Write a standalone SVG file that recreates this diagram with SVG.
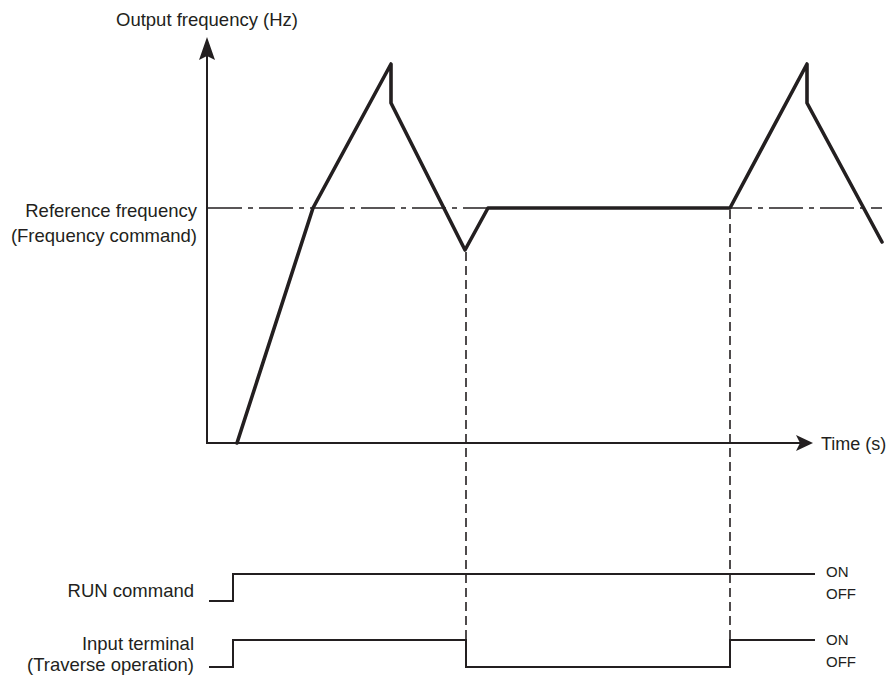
<svg xmlns="http://www.w3.org/2000/svg" width="889" height="679" viewBox="0 0 889 679">
<style>
  .lbl { font-family: "Liberation Sans", Arial, sans-serif; font-size: 18.5px; fill: #231f20; }
  .tm { font-family: "Liberation Sans", Arial, sans-serif; font-size: 18px; fill: #231f20; }
  .sm { font-family: "Liberation Sans", Arial, sans-serif; font-size: 15px; fill: #231f20; }
  .axis { stroke: #231f20; stroke-width: 2; fill: none; }
  .sig { stroke: #231f20; stroke-width: 2; fill: none; stroke-linejoin: miter; }
  .curve { stroke: #231f20; stroke-width: 3.6; fill: none; stroke-linejoin: round; stroke-linecap: round; }
  .ref { stroke: #231f20; stroke-width: 1.6; fill: none; stroke-dasharray: 34 6 5 6; }
  .dash { stroke: #231f20; stroke-width: 1.6; fill: none; stroke-dasharray: 9 5; }
  .head { fill: #231f20; }
</style>
<rect width="889" height="679" fill="#ffffff"/>

<g id="axes">
  <line class="axis" x1="207" y1="443" x2="207" y2="52"/>
  <polygon class="head" points="207,37 199,60 207,56 215,60"/>
  <line class="axis" x1="206" y1="443" x2="802" y2="443"/>
  <polygon class="head" points="813,443 796,435 800,443 796,451"/>
</g>

<g id="labels">
  <text class="lbl" x="207" y="26" text-anchor="middle">Output frequency (Hz)</text>
  <text class="tm" x="821" y="450">Time (s)</text>
  <text class="lbl" x="197" y="217" text-anchor="end">Reference frequency</text>
  <text class="lbl" x="197" y="242" text-anchor="end">(Frequency command)</text>
  <text class="lbl" x="194" y="597" text-anchor="end">RUN command</text>
  <text class="lbl" x="194" y="650" text-anchor="end">Input terminal</text>
  <text class="lbl" x="194" y="671" text-anchor="end">(Traverse operation)</text>
  <text class="sm" x="826" y="577">ON</text>
  <text class="sm" x="826" y="599">OFF</text>
  <text class="sm" x="826" y="645">ON</text>
  <text class="sm" x="826" y="667">OFF</text>
</g>

<g id="reference-line">
  <line class="ref" x1="208" y1="208" x2="882" y2="208"/>
</g>

<g id="frequency-curve">
  <polyline class="curve" points="237,443 313,208 391,64 391,103 465,250 488,208 730,208 807,64 807,103 882,242"/>
</g>

<g id="connectors">
  <line class="dash" x1="466" y1="252" x2="466" y2="667"/>
  <line class="dash" x1="730" y1="210" x2="730" y2="640"/>
</g>

<g id="run-command">
  <polyline class="sig" points="209,601 233,601 233,574 815,574"/>
</g>

<g id="input-terminal">
  <polyline class="sig" points="209,667 233,667 233,640 466,640 466,667 730,667 730,640 815,640"/>
</g>
</svg>
